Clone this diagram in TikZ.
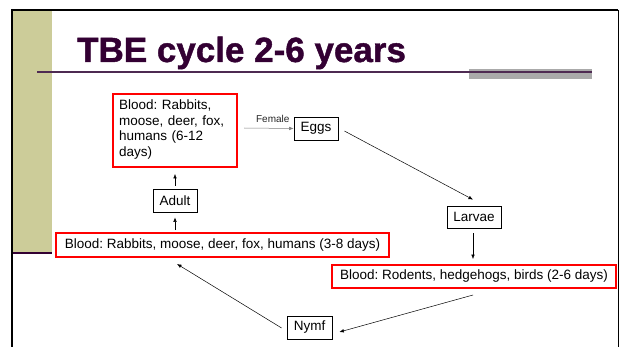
\documentclass[tikz,border=0pt]{standalone}
\usepackage{fontspec}
\setmainfont{Liberation Sans}
\newfontfamily\titlefont[FakeBold=1.2]{Liberation Sans Bold}
\usetikzlibrary{arrows.meta,calc}
\definecolor{titlepurple}{HTML}{330033}
\definecolor{linepurple}{HTML}{4E2A52}
\definecolor{olive}{HTML}{CCCC99}
\definecolor{bargray}{HTML}{AAAAAA}
\definecolor{bodyred}{HTML}{FF0000}
\frenchspacing
\begin{document}
\frenchspacing
\begin{tikzpicture}[x=1pt,y=-1pt,
  every node/.style={font=\frenchspacing\fontsize{13.5}{15.6}\selectfont},
  redbox/.style={draw=bodyred,line width=2pt,inner sep=0pt,align=center},
  plainbox/.style={draw=black,line width=0.8pt,inner sep=0pt,align=center},
  arr/.style={line width=0.5pt,-{Latex[length=4.5pt,width=3.6pt]}}]
\useasboundingbox (0,0) rectangle (620,347);
\fill[white] (0,0) rectangle (620,347);
% slide decoration
\fill[olive] (13,11) rectangle (52,253);
\draw[titlepurple,line width=2.5pt] (13,253) -- (52,253);
\draw[black,line width=2.5pt] (12,9) -- (12,347);
\draw[black,line width=2pt] (11,10) -- (618,10);
\draw[black,line width=1pt] (618,10) -- (618,347);
\fill[bargray] (469,69) rectangle (592,79);
\draw[linepurple,line width=1.3pt] (37,72) -- (592,72);
\node[anchor=base west,inner sep=0pt,text=titlepurple,font=\titlefont\fontsize{35}{40}\selectfont] (title) at (77,62) {TBE cycle 2-6 years};
% nodes
\node[redbox,minimum width=124pt,minimum height=73pt] (b1) at (175,130.5) {};
\node[anchor=north west,inner sep=0pt,align=left,text width=112pt] (b1t) at (119,99.5) {Blood: Rabbits,\\moose, deer, fox,\\humans (6-12\\days)};
\node[plainbox,minimum width=44pt,minimum height=23pt] (eggs) at (316,128.5) {Eggs};
\node[plainbox,minimum width=44pt,minimum height=23pt] (adult) at (175,200.5) {Adult};
\node[plainbox,minimum width=54pt,minimum height=22pt] (larvae) at (474,217) {Larvae};
\node[redbox,minimum width=333pt,minimum height=24pt] (b2) at (222.5,245) {Blood: Rabbits, moose, deer, fox, humans (3-8 days)};
\node[redbox,minimum width=284pt,minimum height=23pt] (b3) at (474,276.5) {Blood: Rodents, hedgehogs, birds (2-6 days)};
\node[plainbox,minimum width=45pt,minimum height=23pt] (nymf) at (309.5,327.5) {Nymf};
% connectors
\draw[arr,draw=gray] ($(b1.east)+(6,-2.5)$) -- (eggs.west)
  node[pos=0.58,above=5pt,inner sep=0pt,text=black!85,font=\fontsize{10}{11}\selectfont] {Female};
\draw[arr] ($(eggs.east)+(6,2.5)$) -- ($(larvae.north)+(-1,-6)$);
\draw[arr] ($(larvae.south)+(-1,5)$) -- ($(b3.north)+(-1,-5)$);
\draw[arr] ($(b3.south)+(-1,6)$) -- ($(nymf.east)+(7,4.5)$);
\draw[arr] ($(nymf.west)+(-5,0.5)$) -- ($(b2.south)+(-45.5,6)$);
\draw[arr] ($(b2.north)+(-47.5,-2)$) -- ($(adult.south)+(0,5)$);
\draw[arr] ($(adult.north)+(0,-3)$) -- ($(b1.south)+(0,6)$);
\end{tikzpicture}
\end{document}
